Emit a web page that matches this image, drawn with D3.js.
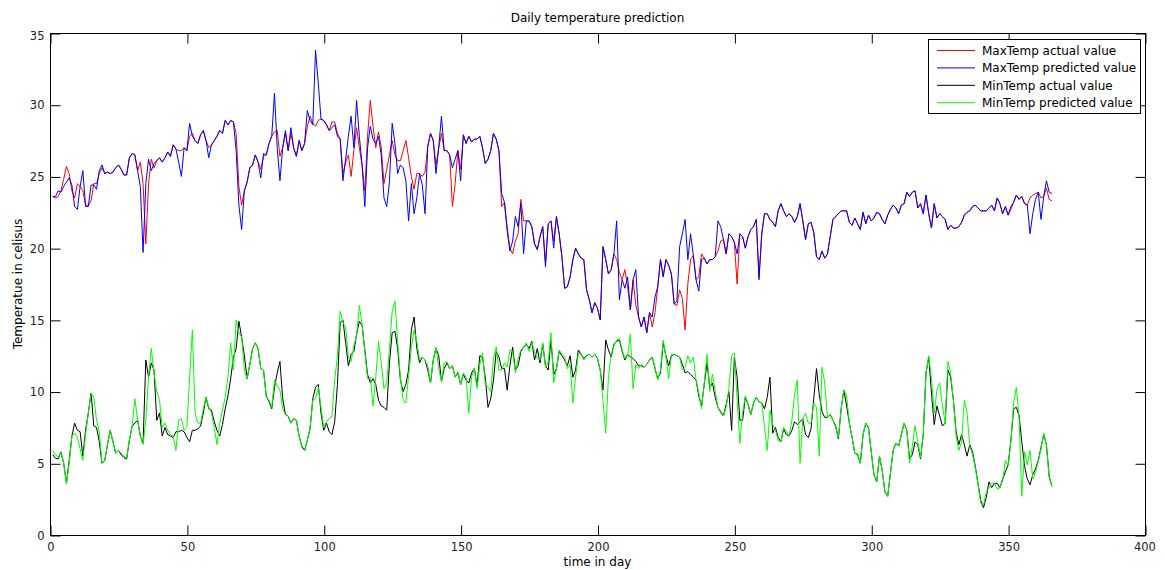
<!DOCTYPE html>
<html><head><meta charset="utf-8">
<script src="https://cdn.jsdelivr.net/npm/d3@7"></script>
<style>
body{margin:0;background:#fff}
svg{display:block}
text{font-family:"DejaVu Sans","Liberation Sans",sans-serif}
</style>
</head><body>
<svg id="chart" width="1165" height="570"></svg>
<script>
const days = d3.range(1, 367);

const maxActual = [
23.6,23.5,23.6,24.0,24.8,25.7,25.2,24.0,23.5,24.5,
24.3,24.0,23.0,23.0,23.3,24.5,24.5,25.2,25.6,25.2,
25.3,25.2,25.3,25.6,25.8,25.5,25.1,25.1,26.3,26.6,
26.5,25.4,26.0,24.5,20.3,24.5,26.2,25.6,26.1,26.3,
26.0,26.3,26.7,26.4,27.2,26.9,26.8,26.8,27.0,26.8,
27.8,28.0,27.5,27.3,27.9,28.2,27.5,27.0,27.2,27.5,
27.8,28.2,28.0,28.9,28.6,28.9,28.8,28.0,24.3,23.0,
24.0,24.6,25.6,25.8,26.5,26.0,25.5,26.4,26.5,27.3,
27.8,28.1,28.2,26.4,27.0,28.0,26.8,28.0,27.0,26.4,
27.5,26.8,27.3,28.5,29.2,28.7,28.5,28.9,29.0,28.9,
28.6,28.2,28.8,28.8,28.0,27.6,25.2,26.0,26.5,25.0,
26.8,28.4,27.0,25.8,24.0,27.8,30.3,28.5,27.0,28.1,
27.0,24.5,25.5,26.5,27.5,26.5,26.1,26.1,26.8,27.5,
26.3,25.0,24.1,25.2,25.2,25.0,25.3,27.1,28.0,27.5,
25.8,27.0,28.0,26.8,26.8,26.5,22.9,24.5,26.8,25.5,
27.9,27.3,27.8,27.4,27.6,27.6,27.8,27.0,25.9,26.2,
26.8,28.0,27.6,26.8,22.9,23.2,21.5,20.0,19.6,20.5,
21.0,23.4,21.9,21.9,21.9,21.5,20.3,19.9,20.8,21.5,
19.0,21.7,21.9,20.5,22.2,21.0,19.4,17.2,17.3,18.0,
19.2,20.0,19.6,19.3,19.2,17.1,16.4,15.5,16.2,15.8,
15.0,20.1,19.2,18.2,18.5,19.6,19.2,18.3,17.8,18.5,
17.3,15.7,17.8,16.0,15.2,14.5,15.2,14.1,15.5,14.5,
15.5,17.3,19.2,18.0,19.2,18.8,18.2,16.1,16.0,17.1,
16.5,14.3,17.5,19.2,19.5,17.8,18.0,19.6,19.3,18.9,
19.2,19.2,19.4,19.8,20.5,20.6,19.6,21.0,20.8,20.4,
17.5,21.0,20.8,20.0,20.8,21.3,21.5,22.0,18.0,21.0,
22.4,22.4,22.0,21.8,21.5,22.6,23.1,22.6,22.2,22.4,
22.2,21.8,22.2,23.1,21.9,20.6,21.7,21.8,21.1,19.4,
19.2,19.8,19.3,19.6,20.8,22.0,22.2,22.4,22.6,22.6,
22.6,21.8,21.6,22.1,21.7,21.3,22.5,21.7,22.3,21.9,
22.1,22.5,22.4,22.0,21.7,22.3,22.7,23.0,22.8,22.4,
23.0,23.1,23.9,23.6,23.9,24.0,22.8,23.1,22.4,23.7,
22.4,21.4,23.1,22.1,22.4,22.2,22.0,21.3,21.6,21.4,
21.4,21.5,21.8,22.3,22.5,22.6,22.9,23.0,22.8,22.6,
22.6,22.6,22.8,23.0,22.6,23.5,23.1,22.4,22.9,22.3,
22.7,23.2,23.7,23.4,23.6,23.1,23.0,23.5,23.7,23.8,
23.9,23.5,23.6,24.2,23.4,23.3
];

const maxPredicted = [
23.6,23.6,24.0,23.9,24.3,24.6,24.9,24.4,22.9,22.7,
24.3,25.4,22.9,22.9,24.4,24.4,24.1,25.4,25.8,25.2,
25.3,25.2,25.3,25.6,25.8,25.5,25.1,25.1,26.3,26.6,
26.5,25.4,24.3,19.7,24.5,26.2,25.4,25.9,26.1,26.3,
26.0,26.3,26.7,26.4,27.2,26.9,26.0,25.0,27.0,26.8,
28.7,27.8,27.5,27.3,27.9,28.2,27.5,26.3,27.2,27.5,
27.8,28.2,28.0,28.9,28.6,28.9,28.8,26.8,23.0,21.3,
24.0,24.6,25.6,25.8,26.5,26.0,24.9,26.6,26.5,27.3,
27.8,30.8,27.0,24.7,27.0,28.2,26.8,28.4,27.0,26.4,
27.5,26.8,27.3,29.6,28.9,28.6,33.8,31.5,29.0,28.9,
28.6,28.2,28.4,28.6,27.8,27.6,24.7,26.2,27.8,29.2,
27.0,30.3,27.8,25.8,22.9,27.0,28.5,27.6,27.3,27.8,
26.5,23.5,22.9,24.6,28.7,27.3,25.2,25.8,25.6,24.7,
21.9,24.5,22.4,23.5,25.2,24.4,22.4,27.1,28.0,27.5,
25.2,27.0,29.2,26.8,26.8,26.5,25.6,26.2,26.8,24.7,
27.9,27.3,27.8,27.4,27.6,27.6,27.8,27.0,25.9,26.2,
26.8,28.0,27.6,26.8,23.8,23.2,21.2,19.8,20.5,22.2,
21.5,23.1,19.6,21.9,21.9,21.5,20.3,19.9,20.8,21.5,
18.7,21.7,21.9,20.0,22.2,21.0,19.4,17.2,17.3,18.0,
19.2,20.0,19.6,19.3,19.2,17.1,16.4,15.5,16.2,15.8,
15.0,20.1,19.2,18.2,18.5,19.6,21.9,16.4,17.8,17.2,
18.0,15.7,17.8,18.5,15.2,14.5,15.2,14.1,15.5,15.2,
16.6,17.3,19.2,18.0,19.2,18.8,18.2,16.1,16.3,20.1,
21.0,22.0,19.2,21.0,19.5,17.8,17.0,19.2,19.3,18.9,
19.2,19.2,19.4,21.9,21.5,20.6,19.6,21.0,20.8,20.4,
19.6,21.0,20.8,20.0,20.8,21.3,21.5,22.0,17.8,21.0,
22.4,22.4,22.0,21.8,21.5,22.6,23.1,22.6,22.2,22.4,
22.2,21.8,22.2,23.1,21.9,20.6,21.7,21.8,21.1,19.4,
19.2,19.8,19.3,19.6,20.8,22.0,22.2,22.4,22.6,22.6,
22.6,21.8,21.6,22.1,21.7,21.3,22.5,21.7,22.3,21.9,
22.1,22.5,22.4,22.0,21.7,22.3,22.7,23.0,22.8,22.4,
23.0,23.1,23.9,23.6,23.9,24.0,22.8,23.1,22.4,23.7,
22.4,21.4,23.1,22.1,22.4,22.2,22.0,21.3,21.6,21.4,
21.4,21.5,21.8,22.3,22.5,22.6,22.9,23.0,22.8,22.6,
22.6,22.6,22.8,23.0,22.6,23.5,23.1,22.4,22.9,22.3,
22.9,23.2,23.7,23.4,23.6,23.1,23.0,21.0,22.4,23.4,
23.9,22.0,23.6,24.7,23.9,23.8
];

const minActual = [
5.6,5.35,5.3,5.8,5.0,3.6,5.2,6.9,7.8,7.3,
7.2,5.5,7.3,8.5,9.9,7.6,7.5,6.5,5.0,5.2,
6.3,7.3,6.5,5.7,5.9,5.6,5.4,5.3,6.6,7.6,
7.8,8.0,6.9,6.4,12.2,11.0,12.0,11.5,8.0,8.5,
6.9,7.5,7.0,6.9,6.8,7.2,7.2,7.3,7.2,6.8,
6.5,7.3,7.3,7.4,7.6,8.5,9.6,8.8,8.7,7.9,
7.3,6.9,7.7,8.8,9.7,10.9,12.4,13.0,14.9,13.8,
12.5,10.9,11.9,13.0,13.4,13.0,11.6,11.5,9.7,9.3,
8.8,10.3,11.3,12.1,9.5,8.4,8.3,7.8,8.1,8.0,
6.9,6.2,5.9,6.6,7.4,9.5,10.3,10.5,8.5,7.3,
7.8,7.2,7.0,7.9,10.5,14.8,15.0,13.4,11.8,12.6,
12.8,14.0,14.9,14.6,12.9,11.2,10.6,10.9,10.5,9.4,
9.0,8.9,8.7,12.0,14.1,14.2,13.0,10.8,10.0,10.5,
11.5,14.3,15.2,13.0,12.0,12.4,12.2,11.5,10.6,12.2,
13.0,12.5,10.7,11.6,12.0,11.6,11.8,11.0,11.3,10.5,
11.2,10.8,10.6,11.3,11.6,10.4,12.5,12.4,11.0,8.9,
9.5,10.8,12.8,12.4,11.6,11.6,10.1,11.8,13.1,11.5,
11.8,12.8,13.1,13.3,13.0,13.5,12.2,13.0,12.0,13.3,
11.8,11.5,13.6,11.2,11.6,12.8,12.5,12.2,11.8,12.5,
11.0,11.5,12.9,12.6,12.3,12.5,12.6,12.4,12.6,12.3,
11.5,10.1,13.6,12.9,12.4,13.3,13.5,13.6,12.8,12.2,
12.6,12.4,12.3,12.1,11.8,11.8,11.7,11.9,12.2,12.4,
11.6,10.9,11.3,13.4,12.5,11.8,12.5,12.6,12.5,12.4,
11.9,11.3,11.4,11.2,11.0,10.8,9.7,9.0,10.5,12.0,
10.3,10.6,9.6,8.9,8.6,8.3,9.1,10.0,7.3,12.4,
11.0,8.0,8.0,9.6,9.1,8.4,9.2,9.6,9.3,9.2,
8.8,9.6,11.0,7.1,7.5,6.8,6.5,7.4,7.0,6.9,
7.3,7.9,7.7,7.9,8.1,7.0,6.8,7.4,9.5,11.6,
9.8,8.6,8.2,8.2,8.4,8.0,7.6,6.7,8.8,10.1,
9.0,7.8,6.8,5.7,5.6,5.0,7.0,7.8,7.5,5.8,
4.2,3.7,5.5,4.5,3.0,2.7,4.3,5.9,6.4,6.2,
7.0,7.8,7.3,5.3,5.6,6.5,6.3,5.3,7.0,11.3,
12.4,9.9,7.7,9.0,8.3,7.6,7.8,11.5,11.0,9.4,
7.2,6.3,7.0,6.3,5.5,6.3,5.8,4.8,3.6,2.4,
1.9,2.6,3.7,3.3,3.6,3.6,3.3,3.9,4.4,4.9,
6.6,8.8,8.9,8.3,6.5,4.8,3.9,3.5,4.2,4.6,
5.2,6.1,7.0,6.3,4.1,3.4
];

const minPredicted = [
5.9,5.6,5.4,5.8,5.0,3.6,5.0,6.9,7.1,6.8,
6.0,5.2,7.0,8.5,9.9,9.6,8.0,7.2,5.0,5.2,
6.3,7.3,6.5,5.7,5.9,5.7,5.5,5.35,6.6,7.6,
9.5,8.0,6.9,6.3,8.0,11.0,13.0,11.3,10.0,9.4,
7.5,7.8,7.3,7.0,6.9,5.9,8.0,8.1,7.3,7.5,
11.0,14.3,8.5,7.8,7.8,8.8,9.6,8.9,8.5,7.5,
6.3,7.8,8.7,9.6,11.0,13.4,11.5,15.0,14.1,13.8,
11.5,10.9,11.9,13.0,13.4,13.0,11.6,11.5,9.6,9.4,
8.9,10.8,10.4,10.1,8.8,8.4,8.3,7.8,8.1,8.0,
6.9,6.1,5.9,6.6,7.5,9.4,9.5,10.3,8.9,7.5,
7.9,8.1,8.3,10.8,12.5,15.6,14.8,14.5,12.4,12.1,
13.2,13.9,16.0,14.7,12.8,10.9,11.0,9.0,11.0,13.5,
12.0,10.2,10.6,13.0,15.6,16.3,13.5,11.0,9.4,9.2,
11.1,13.0,14.3,13.5,12.2,12.4,12.2,11.8,10.6,12.2,
13.1,11.6,10.7,12.0,12.1,11.6,11.8,11.0,11.4,10.5,
11.3,11.0,8.5,11.0,11.6,10.2,11.9,12.7,10.5,10.3,
10.0,12.3,13.1,11.5,11.5,12.0,11.7,12.9,12.8,11.3,
12.3,12.9,13.1,13.4,12.8,13.4,12.8,12.3,12.2,13.4,
11.7,12.1,14.1,10.6,11.6,12.9,12.6,12.4,11.6,11.9,
9.2,11.0,12.7,12.6,12.2,12.5,12.6,12.4,12.6,12.3,
11.5,9.4,7.1,11.0,12.6,13.2,13.6,13.7,12.9,12.3,
12.5,14.0,10.2,11.9,11.6,11.9,11.7,11.9,12.2,12.4,
11.7,10.8,11.5,13.6,12.4,10.9,12.6,12.6,12.5,12.4,
11.5,11.7,12.5,12.0,12.4,10.8,9.9,8.8,10.6,12.6,
10.0,11.2,10.0,8.9,8.5,8.3,8.9,10.2,12.5,12.7,
9.5,6.4,8.5,9.7,9.1,8.4,9.2,9.6,9.3,9.2,
7.5,5.9,8.7,7.7,7.3,6.6,6.5,7.5,7.2,6.9,
8.0,9.8,10.8,5.0,8.1,8.5,7.8,7.8,9.2,8.9,
5.5,11.7,10.6,8.2,8.4,8.0,7.5,6.8,8.8,10.1,
9.7,7.8,6.8,5.7,5.7,5.0,7.0,7.8,7.4,5.8,
4.2,3.7,5.5,4.5,3.0,2.7,4.3,5.9,6.4,6.2,
7.0,7.8,7.3,5.0,6.2,7.6,6.5,5.4,7.0,11.3,
12.5,10.9,8.5,10.1,10.6,9.0,7.8,12.1,11.3,9.4,
6.9,5.9,6.5,9.4,8.5,6.2,5.6,4.7,3.5,2.2,
2.1,3.0,3.3,3.6,3.6,3.2,3.3,3.8,5.2,4.8,
6.5,9.2,10.3,8.2,2.7,5.8,4.9,5.9,3.9,4.4,
5.1,6.0,7.1,6.2,4.0,3.4
];

const xTicks = [0, 50, 100, 150, 200, 250, 300, 350, 400];
const yTicks = [0, 5, 10, 15, 20, 25, 30, 35];
const seriesNames = ["MaxTemp actual value", "MaxTemp predicted value", "MinTemp actual value", "MinTemp predicted value"];
const seriesColors = ["#ff0000", "#0000ff", "#000000", "#00ff00"];
const seriesData = [maxActual, maxPredicted, minActual, minPredicted];

const svg = d3.select("#chart");
const L = 50, R = 1145, T = 33, B = 535;
const x = d3.scaleLinear().domain([0, 400]).range([L, R]);
const y = d3.scaleLinear().domain([0, 35]).range([B, T]);

svg.append("rect").attr("width", 1165).attr("height", 570).attr("fill", "#fff");
svg.append("rect").attr("x", L).attr("y", T).attr("width", R - L).attr("height", B - T)
  .attr("fill", "#fff");

// axes with inward ticks
const gB = svg.append("g").attr("transform", `translate(0.5,${B + 0.5})`)
  .call(d3.axisBottom(x).tickValues(xTicks).tickSize(-10).tickPadding(7).tickFormat(d3.format("d")));
const gT = svg.append("g").attr("transform", `translate(0.5,${T + 0.5})`)
  .call(d3.axisTop(x).tickValues(xTicks).tickSize(-10).tickFormat(""));
const gL = svg.append("g").attr("transform", `translate(${L + 0.5},0.5)`)
  .call(d3.axisLeft(y).tickValues(yTicks).tickSize(-10).tickPadding(6).tickFormat(d3.format("d")));
const gR = svg.append("g").attr("transform", `translate(${R + 0.5},0.5)`)
  .call(d3.axisRight(y).tickValues(yTicks).tickSize(-10).tickFormat(""));
[gB, gT, gL, gR].forEach(g => {
  g.select(".domain").remove();
  g.selectAll(".tick line").attr("stroke", "#000");
  g.selectAll("text").attr("fill", "#222").style("font-size", "11.5px")
    .style("font-family", '"DejaVu Sans","Liberation Sans",sans-serif');
});
gL.selectAll(".tick text").filter(d => d === 35).attr("dy", "0.5em");
gB.selectAll(".tick text").filter(d => d === 400).attr("dx", "-0.1em");

// series lines
const line = d3.line().x((d, i) => x(days[i])).y(d => y(d));
seriesData.forEach((arr, k) => {
  svg.append("path").datum(arr)
    .attr("fill", "none").attr("stroke", seriesColors[k]).attr("stroke-width", 1)
    .attr("stroke-linejoin", "round")
    .attr("d", line);
});

// frame
svg.append("rect").attr("x", L + 0.5).attr("y", T + 0.5).attr("width", R - L).attr("height", B - T)
  .attr("fill", "none").attr("stroke", "#000");

// title and labels
svg.append("text").attr("x", (L + R) / 2).attr("y", 22).attr("text-anchor", "middle")
  .style("font-size", "12px").attr("fill", "#000").text("Daily temperature prediction");
svg.append("text").attr("x", (L + R) / 2).attr("y", 566).attr("text-anchor", "middle")
  .style("font-size", "12px").attr("fill", "#000").text("time in day");
svg.append("text").attr("transform", `translate(22,${(T + B) / 2}) rotate(-90)`).attr("text-anchor", "middle")
  .style("font-size", "12px").attr("fill", "#000").text("Temperatue in celisus");

// legend
const lg = svg.append("g");
lg.append("rect").attr("x", 928.5).attr("y", 39.5).attr("width", 212).attr("height", 74)
  .attr("fill", "#fff").attr("stroke", "#000");
seriesNames.forEach((name, k) => {
  const yy = 50.5 + k * 17.4;
  lg.append("line").attr("x1", 937).attr("x2", 975).attr("y1", yy).attr("y2", yy)
    .attr("stroke", seriesColors[k]).attr("stroke-width", 1);
  lg.append("text").attr("x", 982).attr("y", yy + 4.5).style("font-size", "12px")
    .attr("fill", "#000").text(name);
});
</script>
</body></html>
